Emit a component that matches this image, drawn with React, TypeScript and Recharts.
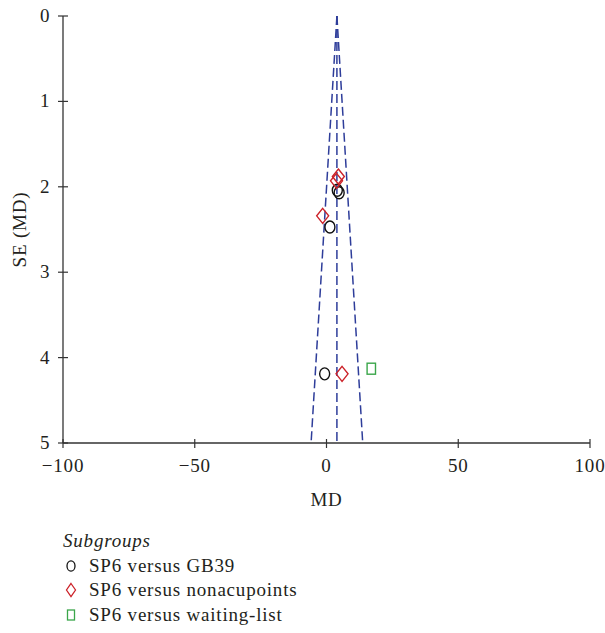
import React from 'react';
import { ScatterChart, Scatter, XAxis, YAxis, ReferenceLine, Legend } from 'recharts';

// Study estimates: mean difference (MD) and standard error SE(MD)
const gb39 = [
  { md: 4.1, se: 2.04 },
  { md: 4.8, se: 2.07 },
  { md: 1.3, se: 2.47 },
  { md: -0.7, se: 4.19 },
];
const nonacupoints = [
  { md: 4.5, se: 1.88 },
  { md: 3.8, se: 1.93 },
  { md: -1.45, se: 2.34 },
  { md: 5.9, se: 4.19 },
];
const waitingList = [{ md: 17.0, se: 4.13 }];

const pooledMD = 3.95;
const seMax = 5;
const z = 1.96;

const xTicks = [-100, -50, 0, 50, 100];
const yTicks = [0, 1, 2, 3, 4, 5];
const legendLabels = ['SP6 versus GB39', 'SP6 versus nonacupoints', 'SP6 versus waiting-list'];

const FONT = '"Liberation Serif", "Times New Roman", serif';
const TEXT = '#231f20';
const AXIS = '#333333';
const FUNNEL = '#2e3d9a';
const RED = '#cc2229';
const GREEN = '#3aa64a';
const FS = 19;
const LS = 0.8;

const fmt = (v: number) => String(v).replace('-', '\u2212');

const XTick = (props: any) => {
  const { x, y, payload } = props;
  return (
    <g>
      <line x1={x} x2={x} y1={y - 4} y2={y + 5} stroke={AXIS} strokeWidth={1.2} />
      <text x={x} y={y + 29} textAnchor="middle" fontFamily={FONT} fontSize={FS} letterSpacing={LS} fill={TEXT}>
        {fmt(payload.value)}
      </text>
    </g>
  );
};

const YTick = (props: any) => {
  const { x, y, payload } = props;
  return (
    <g>
      <line x1={x - 5} x2={x + 5} y1={y} y2={y} stroke={AXIS} strokeWidth={1.2} />
      <text x={x - 13.5} y={y + 6} textAnchor="end" fontFamily={FONT} fontSize={FS} fill={TEXT}>
        {fmt(payload.value)}
      </text>
    </g>
  );
};

const YLabel = (props: any) => {
  const { viewBox } = props;
  const cy = viewBox.y + viewBox.height / 2;
  const bx = 26;
  return (
    <text
      x={bx}
      y={cy}
      transform={`rotate(-90, ${bx}, ${cy})`}
      textAnchor="middle"
      fontFamily={FONT}
      fontSize={FS}
      letterSpacing={LS}
      fill={TEXT}
    >
      SE (MD)
    </text>
  );
};

const CircleShape = (p: any) => (
  <ellipse cx={p.cx} cy={p.cy} rx={5} ry={6} fill="none" stroke="#111" strokeWidth={1.4} />
);
const DiamondShape = (p: any) => (
  <path
    d={`M${p.cx},${p.cy - 7.5} L${p.cx + 6},${p.cy} L${p.cx},${p.cy + 7.5} L${p.cx - 6},${p.cy} Z`}
    fill="none"
    stroke={RED}
    strokeWidth={1.4}
  />
);
const SquareShape = (p: any) => (
  <rect x={p.cx - 4.2} y={p.cy - 5.5} width={8.4} height={11} fill="none" stroke={GREEN} strokeWidth={1.4} />
);

const markers = [
  (cx: number, cy: number) => <ellipse cx={cx} cy={cy} rx={4} ry={5.2} fill="none" stroke="#111" strokeWidth={1.3} />,
  (cx: number, cy: number) => (
    <path d={`M${cx},${cy - 6.5} L${cx + 4.5},${cy} L${cx},${cy + 6.5} L${cx - 4.5},${cy} Z`} fill="none" stroke={RED} strokeWidth={1.3} />
  ),
  (cx: number, cy: number) => <rect x={cx - 3.5} y={cy - 5} width={7} height={10} fill="none" stroke={GREEN} strokeWidth={1.3} />,
];

const LH = 24.5;

const LegendContent = () => (
  <div style={{ fontFamily: FONT, color: TEXT, fontSize: FS, letterSpacing: LS, lineHeight: `${LH}px` }}>
    <div style={{ fontStyle: 'italic', height: LH }}>Subgroups</div>
    {legendLabels.map((label, i) => (
      <div key={label} style={{ display: 'flex', alignItems: 'center', height: LH }}>
        <svg width={20} height={20} style={{ marginRight: 6, flex: 'none' }}>
          {markers[i](8, 10)}
        </svg>
        <span>{label}</span>
      </div>
    ))}
  </div>
);

export default function App() {
  return (
    <div style={{ position: 'absolute', left: 0, top: 0, width: 605, height: 633, background: '#fff', overflow: 'hidden' }}>
      <ScatterChart width={605} height={633} margin={{ top: 16, right: 15, bottom: 160, left: 0 }}>
        <XAxis
          type="number"
          dataKey="md"
          domain={[-100, 100]}
          ticks={xTicks}
          tick={<XTick />}
          tickLine={false}
          tickSize={0}
          tickMargin={0}
          axisLine={{ stroke: AXIS, strokeWidth: 1.3 }}
          height={30}
          allowDataOverflow
          label={{ value: 'MD', position: 'insideBottom', offset: -33, fontFamily: FONT, fontSize: FS, letterSpacing: LS, fill: TEXT }}
        />
        <YAxis
          type="number"
          dataKey="se"
          domain={[0, 5]}
          reversed
          ticks={yTicks}
          tick={<YTick />}
          tickLine={false}
          tickSize={0}
          tickMargin={0}
          axisLine={{ stroke: AXIS, strokeWidth: 1.3 }}
          width={63}
          allowDataOverflow
          label={<YLabel />}
        />
        <ReferenceLine
          segment={[{ x: pooledMD, y: 0 }, { x: pooledMD, y: seMax }]}
          stroke={FUNNEL}
          strokeWidth={1.5}
          strokeDasharray="9 4"
        />
        <ReferenceLine
          segment={[{ x: pooledMD, y: 0 }, { x: pooledMD - z * seMax, y: seMax }]}
          stroke={FUNNEL}
          strokeWidth={1.5}
          strokeDasharray="9 4"
        />
        <ReferenceLine
          segment={[{ x: pooledMD, y: 0 }, { x: pooledMD + z * seMax, y: seMax }]}
          stroke={FUNNEL}
          strokeWidth={1.5}
          strokeDasharray="9 4"
        />
        <Scatter name={legendLabels[0]} data={gb39} shape={<CircleShape />} isAnimationActive={false} />
        <Scatter name={legendLabels[1]} data={nonacupoints} shape={<DiamondShape />} isAnimationActive={false} />
        <Scatter name={legendLabels[2]} data={waitingList} shape={<SquareShape />} isAnimationActive={false} />
        <Legend
          layout="vertical"
          align="center"
          verticalAlign="middle"
          content={<LegendContent />}
          wrapperStyle={{ position: 'absolute', left: 63, top: 529, width: 360 }}
        />
      </ScatterChart>
    </div>
  );
}
